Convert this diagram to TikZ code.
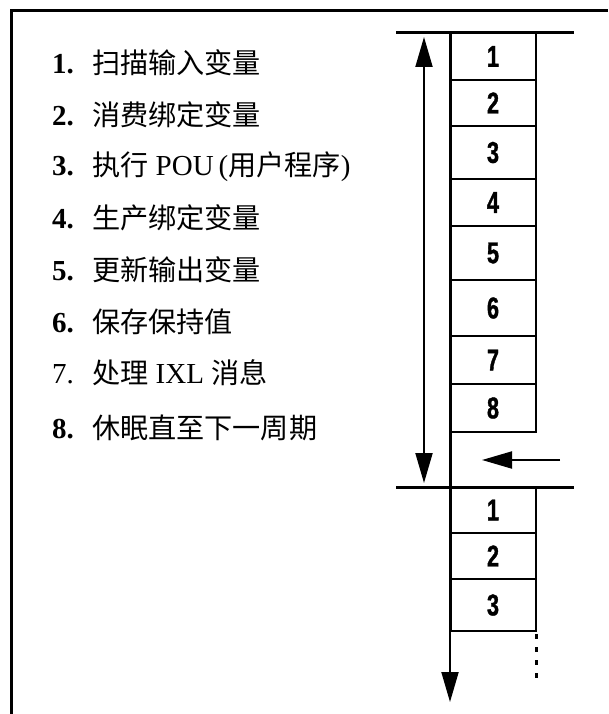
\documentclass[tikz,border=0pt]{standalone}
\usepackage{fontspec}
\setmainfont{Liberation Serif}
\newfontfamily\cjk[Scale=0.97]{Noto Sans CJK SC}
\newfontfamily\numfont[FakeStretch=0.72,BoldFeatures={FakeBold=1.2}]{Liberation Sans}
\usetikzlibrary{arrows.meta}
\begin{document}
\begin{tikzpicture}[x=1pt,y=-1pt,
  frameline/.style={line width=3pt},
  sepline/.style={line width=3pt},
  cell/.style={draw, line width=2pt, minimum width=86pt, inner sep=0pt, outer sep=0pt,
    font=\fontsize{30}{32}\numfont\bfseries\selectfont},
  numtxt/.style={anchor=base west, inner sep=0pt, font=\fontsize{29}{33}\selectfont\bfseries},
  numreg/.style={anchor=base west, inner sep=0pt, font=\fontsize{29}{33}\selectfont},
  itemtxt/.style={anchor=base west, inner sep=0pt, font=\fontsize{29}{33}\selectfont},
  flow/.style={line width=2pt, -{Triangle[length=30pt,width=17pt]}},
  flowboth/.style={line width=2pt, {Triangle[length=30pt,width=17pt]}-{Triangle[length=30pt,width=17pt]}}
]
\useasboundingbox (0,0) rectangle (608,714);
% frame (top and left edges only)
\draw[frameline] (11,714) -- (11,11) -- (608,11);

% list
\node[numtxt] (n1) at (52,73.5) {1.};
\node[itemtxt] (t1) at (92,73.5) {\cjk 扫描输入变量};
\node[numtxt] (n2) at (52,125.5) {2.};
\node[itemtxt] (t2) at (92,125.5) {\cjk 消费绑定变量};
\node[numtxt] (n3) at (52,175.5) {3.};
\node[itemtxt] (t3) at (92,175.5) {{\cjk 执行} POU\hspace{5pt}({\cjk 用户程序})};
\node[numtxt] (n4) at (52,228.5) {4.};
\node[itemtxt] (t4) at (92,228.5) {\cjk 生产绑定变量};
\node[numtxt] (n5) at (52,280.5) {5.};
\node[itemtxt] (t5) at (92,280.5) {\cjk 更新输出变量};
\node[numtxt] (n6) at (52,332.5) {6.};
\node[itemtxt] (t6) at (92,332.5) {\cjk 保存保持值};
\node[numreg] (n7) at (52,383.5) {7.};
\node[itemtxt] (t7) at (92,383.5) {{\cjk 处理} IXL {\cjk 消息}};
\node[numtxt] (n8) at (52,438.5) {8.};
\node[itemtxt] (t8) at (92,438.5) {\cjk 休眠直至下一周期};

% first cycle boxes
\node[cell, minimum height=47pt] (a1) at (493,56.5) {1};
\node[cell, minimum height=46pt] (a2) at (493,103) {2};
\node[cell, minimum height=53pt] (a3) at (493,152.5) {3};
\node[cell, minimum height=47pt] (a4) at (493,202.5) {4};
\node[cell, minimum height=54pt] (a5) at (493,253) {5};
\node[cell, minimum height=56pt] (a6) at (493,308) {6};
\node[cell, minimum height=48pt] (a7) at (493,360) {7};
\node[cell, minimum height=48pt] (a8) at (493,408) {8};

% second cycle boxes
\node[cell, minimum height=46pt] (c1) at (493,510) {1};
\node[cell, minimum height=46pt] (c2) at (493,556) {2};
\node[cell, minimum height=52pt] (c3) at (493,605) {3};

% separator lines
\coordinate (s1L) at (396,33);
\coordinate (s1R) at (574,33);
\coordinate (s2L) at (396,487);
\coordinate (s2R) at (574,487);
\draw[sepline] (s1L) -- (s1R);
\draw[sepline] (s2L) -- (s2R);

% time axis (column left edge)
\coordinate (colTop) at (450,33);
\coordinate (colMid) at (450,631);
\coordinate (colEnd) at (450,702);
\draw[line width=3pt] (colTop) -- (colMid);
\draw[flow] (colMid) -- (colEnd);

% cycle duration arrow
\coordinate (durTop) at (424,37);
\coordinate (durBot) at (424,483);
\draw[flowboth] (durBot) -- (durTop);

% trigger arrow
\coordinate (trgS) at (560,460);
\coordinate (trgE) at (482,460);
\draw[flow] (trgS) -- (trgE);

% continuation dots
\coordinate (dotS) at (536,634);
\coordinate (dotE) at (536,680);
\draw[line width=3pt, dash pattern=on 5pt off 8pt] (dotS) -- (dotE);
\end{tikzpicture}
\end{document}
